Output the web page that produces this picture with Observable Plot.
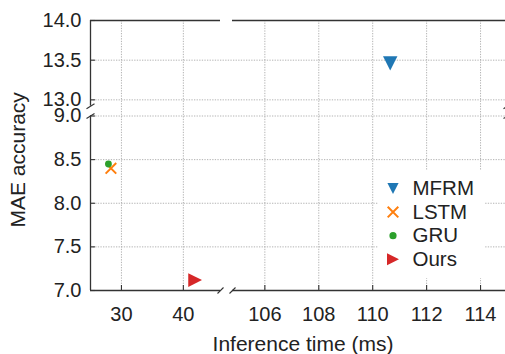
<!DOCTYPE html>
<html><head><meta charset="utf-8">
<script src="https://cdn.jsdelivr.net/npm/d3@7"></script>
<script src="https://cdn.jsdelivr.net/npm/@observablehq/plot@0.6"></script>
<style>
html,body{margin:0;padding:0;background:#fff;}
#chart{width:505px;height:354px;overflow:hidden;}
</style></head><body><div id="chart"></div>
<script>
// ---- data ----
const methods = ["MFRM", "LSTM", "GRU", "Ours"];
const inferenceTime = [110.65, 28.3, 27.9, 41.9];   // ms
const maeAccuracy = [13.46, 8.40, 8.45, 7.12];
const xTicks = [30, 40, 106, 108, 110, 112, 114];
const yTicks = [7.0, 7.5, 8.0, 8.5, 9.0, 13.0, 13.5, 14.0];
const xPanels = [[25, 46], [104.8, 115]];   // broken x axis: two panels
const yPanels = [[7.0, 9.0], [12.92, 14.0]]; // broken y axis: two panels
const xLabel = "Inference time (ms)";
const yLabel = "MAE accuracy";

const table = methods.map((m, i) => ({method: m, time: inferenceTime[i], mae: maeAccuracy[i]}));

// ---- styles ----
const colors = {MFRM: "#1f77b4", LSTM: "#ff7f0e", GRU: "#2ca02c", Ours: "#d62728"};
const triDown = {draw(c, s) { const h = Math.sqrt(s / Math.PI); c.moveTo(-h, -h); c.lineTo(h, -h); c.lineTo(0, h); c.closePath(); }};
const triRight = {draw(c, s) { const h = Math.sqrt(s / Math.PI); c.moveTo(-h, -h); c.lineTo(h, 0); c.lineTo(-h, h); c.closePath(); }};
const cross = {draw(c, s) { const h = Math.sqrt(s / Math.PI); c.moveTo(-h, -h); c.lineTo(h, h); c.moveTo(-h, h); c.lineTo(h, -h); }};
const slashX = {draw(c, s) { c.moveTo(-3, 3); c.lineTo(3, -3); }};
const slashY = {draw(c, s) { c.moveTo(-4, 2.5); c.lineTo(4, -2.5); }};
const markStyle = {
  MFRM: {symbol: triDown, r: 7.2, lr: 5.6, fill: colors.MFRM, stroke: "none"},
  LSTM: {symbol: cross, r: 5.3, lr: 5.3, fill: "none", stroke: colors.LSTM, strokeWidth: 2},
  GRU:  {symbol: "circle", r: 3.4, lr: 3.6, fill: colors.GRU, stroke: "none"},
  Ours: {symbol: triRight, r: 6.9, lr: 6.0, fill: colors.Ours, stroke: "none"}
};
const spine = {stroke: "#333", strokeWidth: 1.3};
const grid = {stroke: "#aaa", strokeOpacity: 1, strokeWidth: 0.9, strokeDasharray: "1.3,1.3"};
const textColor = "#222";

const W = 505, H = 354;
const mL = 90, mR = 0, mT = 20, mB = 64;
const frameW = W - mL - mR, frameH = H - mT - mB;

const marks = [
  Plot.gridX(xTicks, grid),
  Plot.gridY(yTicks.filter(d => d !== 14 && d !== 7), grid),
  // data points
  ...methods.map(m => Plot.dot(table.filter(d => d.method === m), {
    x: "time", y: "mae",
    symbol: markStyle[m].symbol, r: markStyle[m].r,
    fill: markStyle[m].fill, stroke: markStyle[m].stroke, strokeWidth: markStyle[m].strokeWidth
  })),
  // spines (broken)
  ...xPanels.map(([a, b]) => Plot.ruleY([yPanels[0][0]], {x1: a, x2: b, ...spine})),
  ...xPanels.map(([a, b]) => Plot.ruleY([yPanels[1][1]], {x1: a, x2: b, ...spine})),
  ...yPanels.map(([a, b]) => Plot.ruleX([xPanels[0][0]], {y1: a, y2: b, ...spine})),
  ...yPanels.map(([a, b]) => Plot.ruleX([xPanels[1][1]], {y1: a, y2: b, ...spine})),
  // break marks
  Plot.dot([xPanels[0][1], xPanels[1][0]], {x: d => d, y: yPanels[0][0], symbol: slashX, r: 3, stroke: "#333", strokeWidth: 1.1}),
  Plot.dot([yPanels[0][1], yPanels[1][0]], {y: d => d, x: xPanels[0][0], symbol: slashY, r: 3, stroke: "#333", strokeWidth: 1.1}),
  Plot.dot([yPanels[0][1], yPanels[1][0]], {y: d => d, x: xPanels[1][1], symbol: slashY, r: 3, stroke: "#333", strokeWidth: 1.1}),
  // inward ticks
  Plot.tickX(xTicks, {x: d => d, insetTop: frameH - 5, stroke: "#333", strokeWidth: 1.1}),
  Plot.tickY(yTicks, {y: d => d, insetRight: frameW - 5, stroke: "#333", strokeWidth: 1.1}),
  // tick labels
  Plot.axisX(xTicks, {tickSize: 0, tickPadding: 16, label: null, fill: textColor, tickFormat: d => String(d)}),
  Plot.axisY(yTicks, {tickSize: 0, tickPadding: 9, label: null, fill: textColor, tickFormat: d => d.toFixed(1)}),
  // axis labels
  Plot.text([xLabel], {frameAnchor: "bottom", dx: 5, dy: 60, lineAnchor: "bottom", fontSize: 21, fill: textColor}),
  Plot.text([yLabel], {frameAnchor: "left", dx: -66, dy: 72, rotate: -90, lineAnchor: "bottom", fontSize: 21, fill: textColor}),
  // legend
  Plot.rect([0], {insetLeft: 288, insetRight: 21, insetTop: 150, insetBottom: 12, fill: "white"}),
  ...methods.map((m, i) => Plot.dot([m], {
    frameAnchor: "top-left", dx: 392.5 - mL, dy: 188 + i * 23.6 - mT,
    symbol: markStyle[m].symbol, r: markStyle[m].lr,
    fill: markStyle[m].fill, stroke: markStyle[m].stroke, strokeWidth: markStyle[m].strokeWidth
  })),
  ...methods.map((m, i) => Plot.text([m], {
    frameAnchor: "top-left", dx: 412 - mL, dy: 188 + i * 23.6 - mT,
    text: d => d, textAnchor: "start", lineAnchor: "middle", fontSize: 20.5, fill: textColor
  }))
];

const chart = Plot.plot({
  width: W, height: H,
  marginLeft: mL, marginRight: mR, marginTop: mT, marginBottom: mB,
  style: {fontSize: "20px", fontFamily: "'Liberation Sans', Arial, sans-serif", background: "white", color: textColor},
  x: {type: "linear", domain: [xPanels[0][0], xPanels[0][1], xPanels[1][0], xPanels[1][1]], range: [90, 220, 232, 507], axis: null},
  y: {type: "linear", domain: [yPanels[0][0], yPanels[0][1], yPanels[1][0], yPanels[1][1]], range: [290, 115.5, 105.7, 20], axis: null},
  marks
});
document.getElementById("chart").appendChild(chart);
</script></body></html>
